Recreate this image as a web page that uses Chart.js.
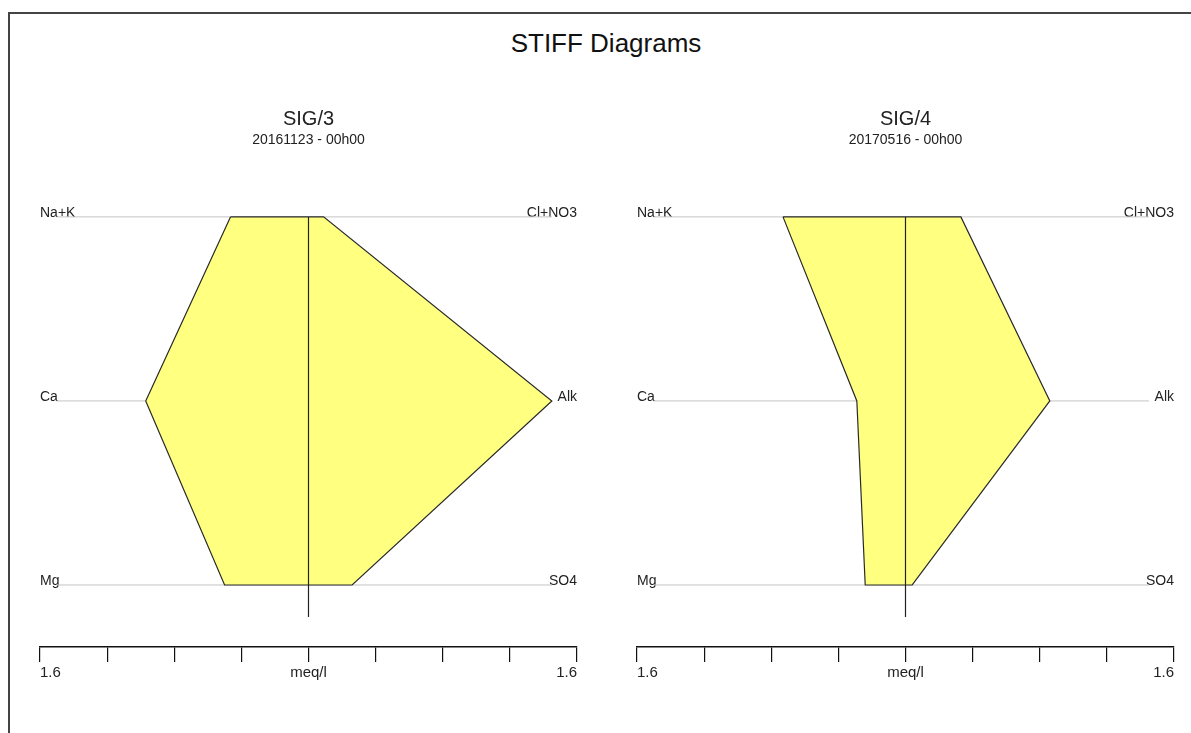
<!DOCTYPE html>
<html>
<head>
<meta charset="utf-8">
<title>STIFF Diagrams</title>
<script src="https://cdn.jsdelivr.net/npm/chart.js@4"></script>
<style>
  body { margin: 0; overflow: hidden; background: #fff; font-family: 'Liberation Sans', Arial, sans-serif; }
  #frame { position: absolute; left: 8px; top: 12px; width: 1300px; height: 800px; border: 2px solid #444; }
  #mainTitle { position: absolute; left: 0; top: 30px; width: 1212px; text-align: center; font-size: 26px; line-height: 26px; color: #111; }
  .panel { position: absolute; top: 0; width: 618px; height: 733px; }
</style>
</head>
<body>
<div id="frame"></div>
<div id="mainTitle">STIFF Diagrams</div>
<div class="panel" style="left:0px"><canvas id="sig3"></canvas></div>
<div class="panel" style="left:597px"><canvas id="sig4"></canvas></div>
<script>
// ion names, top row first
const cations = ['Na+K', 'Ca', 'Mg'];
const anions = ['Cl+NO3', 'Alk', 'SO4'];

// meq/l, same order as the names
const sig3Cations = [0.465, 0.97, 0.50];
const sig3Anions = [0.09, 1.45, 0.26];
const sig4Cations = [0.73, 0.29, 0.24];
const sig4Anions = [0.33, 0.86, 0.04];

const xTicks = [-1.6, -1.2, -0.8, -0.4, 0, 0.4, 0.8, 1.2, 1.6];
const rowLevels = [3, 2, 1];

const FONT = "'Liberation Sans', Arial, sans-serif";

function makeStiff(id, name, date, cat, an) {
    const shape = [];
    rowLevels.forEach((y, i) => shape.push({ x: -cat[i], y: y }));
    for (let i = rowLevels.length - 1; i >= 0; i--) shape.push({ x: an[i], y: rowLevels[i] });
    shape.push(shape[0]);

    const datasets = rowLevels.map(y => ({
        data: [{ x: -1.5, y: y }, { x: 1.45, y: y }],
        borderColor: '#c4c4c4',
        borderWidth: 1,
        order: 3
    }));
    datasets.push({
        data: shape,
        borderColor: '#2a2a2a',
        borderWidth: 1.2,
        backgroundColor: '#ffff80',
        fill: 'shape',
        order: 2
    });
    datasets.push({
        data: [{ x: 0, y: 3 }, { x: 0, y: 0.826 }],
        borderColor: '#222',
        borderWidth: 1.2,
        order: 1
    });

    const yAxis = (pos, names) => ({
        type: 'linear',
        position: pos,
        min: 0.663,
        max: 3.12,
        z: 1,
        grid: { display: false },
        border: { display: false },
        afterBuildTicks: axis => { axis.ticks = rowLevels.map(v => ({ value: v })); },
        afterFit: axis => { axis.width = 0; },
        ticks: {
            mirror: true,
            padding: 0,
            labelOffset: -4,
            color: '#222',
            font: { family: FONT, size: 14 },
            callback: v => names[rowLevels.indexOf(v)]
        }
    });

    return new Chart(document.getElementById(id), {
        type: 'scatter',
        data: { datasets: datasets },
        options: {
            responsive: true,
            maintainAspectRatio: false,
            animation: false,
            showLine: true,
            elements: { point: { radius: 0 }, line: { tension: 0 } },
            layout: { padding: { left: 40, right: 41, top: 0, bottom: 36 } },
            plugins: {
                legend: { display: false },
                tooltip: { enabled: false },
                title: {
                    display: true,
                    text: name,
                    color: '#222',
                    font: { family: FONT, size: 20, weight: 'normal' },
                    padding: { top: 107, bottom: 0 }
                },
                subtitle: {
                    display: true,
                    text: date,
                    color: '#222',
                    font: { family: FONT, size: 14 },
                    padding: { top: 1, bottom: 46 }
                }
            },
            scales: {
                x: {
                    type: 'linear',
                    min: -1.6,
                    max: 1.6,
                    afterBuildTicks: axis => { axis.ticks = xTicks.map(v => ({ value: v })); },
                    afterFit: axis => { axis.height = 50; },
                    grid: { drawOnChartArea: false, color: '#111', tickLength: 15, lineWidth: 1.2 },
                    border: { color: '#111', width: 1.5 },
                    ticks: {
                        autoSkip: false,
                        maxRotation: 0,
                        align: 'inner',
                        padding: 2,
                        color: '#222',
                        font: { family: FONT, size: 15 },
                        callback: v => v === 0 ? 'meq/l' : (Math.abs(v) === 1.6 ? '1.6' : '')
                    }
                },
                y: yAxis('left', cations),
                y2: yAxis('right', anions)
            }
        }
    });
}

makeStiff('sig3', 'SIG/3', '20161123 - 00h00', sig3Cations, sig3Anions);
makeStiff('sig4', 'SIG/4', '20170516 - 00h00', sig4Cations, sig4Anions);
</script>
</body>
</html>
